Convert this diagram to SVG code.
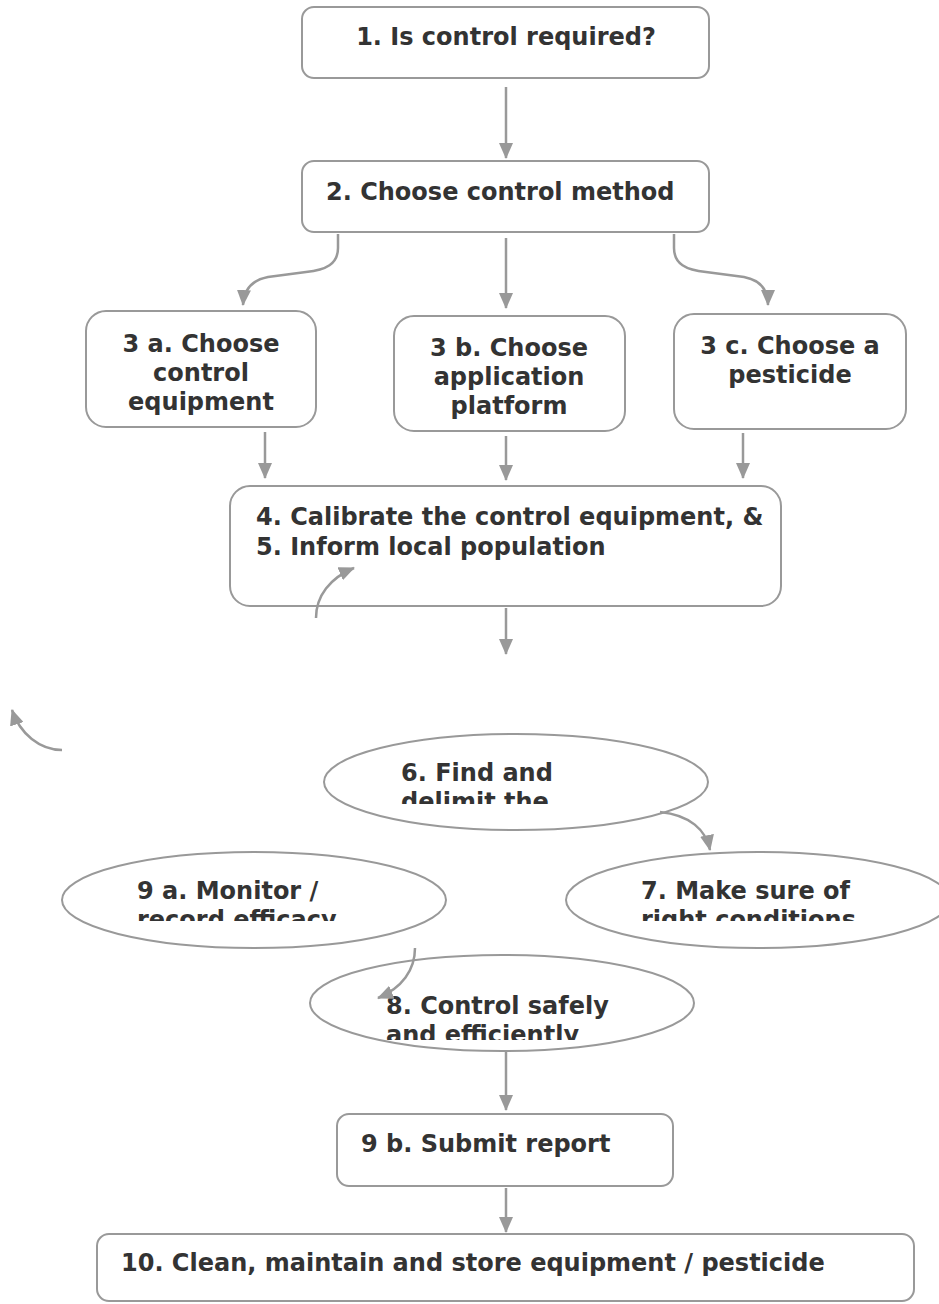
<svg xmlns="http://www.w3.org/2000/svg" width="939" height="1304" viewBox="0 0 939 1304">
  <style>
    .box { fill: #ffffff; stroke: #999999; stroke-width: 2; }
    .oval { fill: #ffffff; stroke: #999999; stroke-width: 2; }
    .lbl { font-family: "DejaVu Sans", Verdana, sans-serif; font-weight: bold; font-size: 24px; fill: #333333; }
    .mid { text-anchor: middle; }
    .conn { fill: none; stroke: #999999; stroke-width: 2.5; }
  </style>
  <defs>
    <marker id="arrow" viewBox="0 0 16 14" refX="15" refY="7" markerWidth="16" markerHeight="14" markerUnits="userSpaceOnUse" orient="auto">
      <path d="M0,0 L16,7 L0,14 Z" fill="#999999"/>
    </marker>
    <clipPath id="clip6"><rect x="330" y="740" width="380" height="64"/></clipPath>
    <clipPath id="clip9a"><rect x="62" y="855" width="384" height="66"/></clipPath>
    <clipPath id="clip7"><rect x="566" y="855" width="384" height="66"/></clipPath>
    <clipPath id="clip8"><rect x="310" y="960" width="384" height="80"/></clipPath>
  </defs>

  <g id="connectors">
    <path class="conn" d="M506,87 V158" marker-end="url(#arrow)"/>
    <path class="conn" d="M338,234 V248 C338,264 326,270 306,272 L268,277 C252,280 244,289 243,305" marker-end="url(#arrow)"/>
    <path class="conn" d="M506,238 V308" marker-end="url(#arrow)"/>
    <path class="conn" d="M674,234 V248 C674,264 686,270 706,272 L744,277 C760,280 768,289 768,305" marker-end="url(#arrow)"/>
    <path class="conn" d="M265,432 V478" marker-end="url(#arrow)"/>
    <path class="conn" d="M506,436 V480" marker-end="url(#arrow)"/>
    <path class="conn" d="M743,433 V478" marker-end="url(#arrow)"/>
    <path class="conn" d="M506,608 V654" marker-end="url(#arrow)"/>
    <path class="conn" d="M62,750 C40,750 20,734 12,710" marker-end="url(#arrow)"/>
    <path class="conn" d="M506,1052 V1110" marker-end="url(#arrow)"/>
    <path class="conn" d="M506,1188 V1232" marker-end="url(#arrow)"/>
  </g>

  <g id="n1">
    <rect class="box" x="302" y="7" width="407" height="71" rx="12"/>
    <text class="lbl mid" x="506" y="45">1. Is control required?</text>
  </g>
  <g id="n2">
    <rect class="box" x="302" y="161" width="407" height="71" rx="12"/>
    <text class="lbl" x="326" y="200">2. Choose control method</text>
  </g>
  <g id="n3a">
    <rect class="box" x="86" y="311" width="230" height="116" rx="20"/>
    <text class="lbl mid" x="201" y="352">3 a. Choose</text>
    <text class="lbl mid" x="201" y="381">control</text>
    <text class="lbl mid" x="201" y="410">equipment</text>
  </g>
  <g id="n3b">
    <rect class="box" x="394" y="316" width="231" height="115" rx="20"/>
    <text class="lbl mid" x="509" y="356">3 b. Choose</text>
    <text class="lbl mid" x="509" y="385">application</text>
    <text class="lbl mid" x="509" y="414">platform</text>
  </g>
  <g id="n3c">
    <rect class="box" x="674" y="314" width="232" height="115" rx="20"/>
    <text class="lbl mid" x="790" y="354">3 c. Choose a</text>
    <text class="lbl mid" x="790" y="383">pesticide</text>
  </g>
  <g id="n4">
    <rect class="box" x="230" y="486" width="551" height="120" rx="20"/>
    <text class="lbl" x="256" y="525">4. Calibrate the control equipment, &amp;</text>
    <text class="lbl" x="256" y="555">5. Inform local population</text>
    <path class="conn" d="M316,618 C316,596 330,578 354,568" marker-end="url(#arrow)"/>
  </g>
  <g id="n6">
    <ellipse class="oval" cx="516" cy="782" rx="192" ry="48"/>
    <g clip-path="url(#clip6)">
      <text class="lbl" x="401" y="781">6. Find and</text>
      <text class="lbl" x="401" y="810">delimit the</text>
    </g>
    <path class="conn" d="M660,812 C690,815 706,830 710,850" marker-end="url(#arrow)"/>
  </g>
  <g id="n8">
    <ellipse class="oval" cx="502" cy="1003" rx="192" ry="48"/>
    <g clip-path="url(#clip8)">
      <text class="lbl" x="386" y="1014">8. Control safely</text>
      <text class="lbl" x="386" y="1043">and efficiently</text>
    </g>
  </g>
  <g id="n9a">
    <ellipse class="oval" cx="254" cy="900" rx="192" ry="48"/>
    <g clip-path="url(#clip9a)">
      <text class="lbl" x="137" y="899">9 a. Monitor /</text>
      <text class="lbl" x="137" y="928">record efficacy</text>
    </g>
    <path class="conn" d="M415,948 C415,970 402,988 378,998" marker-end="url(#arrow)"/>
  </g>
  <g id="n7">
    <ellipse class="oval" cx="758" cy="900" rx="192" ry="48"/>
    <g clip-path="url(#clip7)">
      <text class="lbl" x="641" y="899">7. Make sure of</text>
      <text class="lbl" x="641" y="928">right conditions</text>
    </g>
  </g>
  <g id="n9b">
    <rect class="box" x="337" y="1114" width="336" height="72" rx="12"/>
    <text class="lbl" x="361" y="1152">9 b. Submit report</text>
  </g>
  <g id="n10">
    <rect class="box" x="97" y="1234" width="817" height="67" rx="12"/>
    <text class="lbl" x="121" y="1271">10. Clean, maintain and store equipment / pesticide</text>
  </g>
</svg>
